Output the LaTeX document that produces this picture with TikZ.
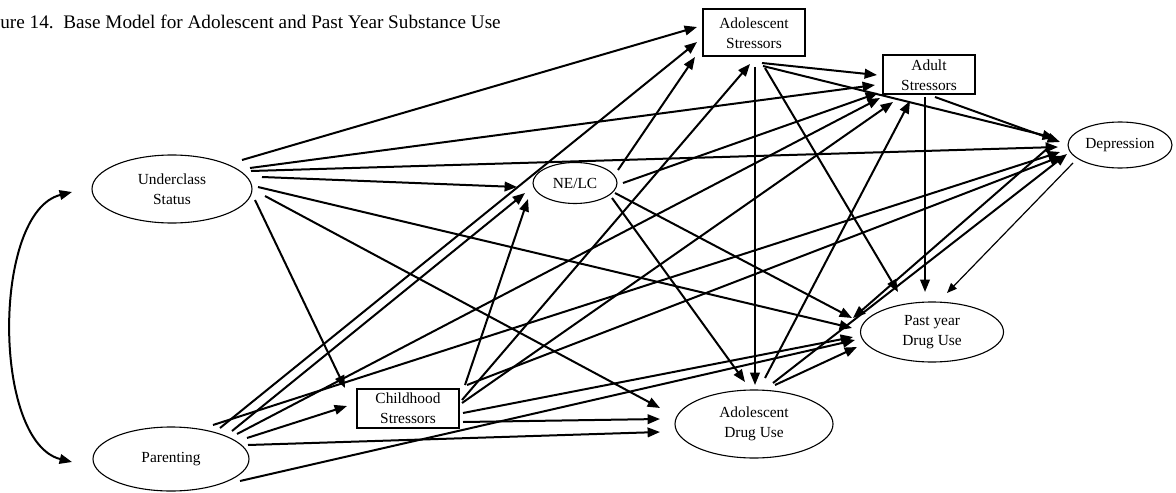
\documentclass[tikz,border=0pt]{standalone}
\usepackage{fontspec}
\setmainfont{Liberation Serif}
\usetikzlibrary{shapes.geometric,arrows.meta}
\begin{document}
\begin{tikzpicture}[x=0.5pt,y=-0.5pt,
  lbl/.style={font=\fontsize{7.7}{10}\selectfont,align=center,inner sep=0pt},
  oval/.style={lbl,draw,ellipse,line width=0.55pt},
  box/.style={lbl,draw,rectangle,line width=1pt},
  tip/.style={-{Triangle[length=6.2pt,width=4.8pt]}},
  link/.style={tip,line width=1pt},
  thinlink/.style={-{Triangle[length=5pt,width=4pt]},line width=0.6pt}]
\useasboundingbox (0,0) rectangle (1176,492);

% title
\node[anchor=base west,inner sep=0pt,font=\fontsize{9.6}{12}\selectfont] (title) at (0,29)
  {ure 14.\ \ Base Model for Adolescent and Past Year Substance Use};

% variables
\node[oval,minimum width=80pt,minimum height=34pt] (u) at (172,189) {Underclass\\Status};
\node[oval,minimum width=78pt,minimum height=32pt] (p) at (171,459) {Parenting};
\node[box,minimum width=51pt,minimum height=23.5pt] (as) at (754,33) {Adolescent\\Stressors};
\node[box,minimum width=46pt,minimum height=19.5pt] (ads) at (929,75) {Adult\\Stressors};
\node[oval,minimum width=52pt,minimum height=23pt] (dep) at (1120,145) {Depression};
\node[oval,minimum width=42pt,minimum height=20.5pt] (ne) at (575,183) {NE/LC};
\node[box,minimum width=51pt,minimum height=19.5pt] (cs) at (408,408) {Childhood\\Stressors};
\node[oval,minimum width=79pt,minimum height=34pt] (ad) at (754,424) {Adolescent\\Drug Use};
\node[oval,minimum width=71.5pt,minimum height=30pt] (py) at (932,332) {Past year\\Drug Use};

% correlation between the exogenous variables
\draw[line width=1pt,{Triangle[length=6.2pt,width=4.8pt]}-{Triangle[length=6.2pt,width=4.8pt]}]
  ([shift={(-100,3)}]u.center) .. controls (-8,212) and (-8,442) .. ([shift={(-99,3)}]p.center);

% paths from Underclass Status
\draw[link] ([shift={(70,-29)}]u.center) -- ([shift={(-57,-6)}]as.center);
\draw[link] ([shift={(78,-21)}]u.center) -- ([shift={(-54,10)}]ads.center);
\draw[link] ([shift={(79,-18)}]u.center) -- ([shift={(-62,2)}]dep.center);
\draw[link] ([shift={(90,-12)}]u.center) -- ([shift={(-58,4)}]ne.center);
\draw[link] ([shift={(86,-2)}]u.center) -- ([shift={(-80,-4)}]py.center);
\draw[link] ([shift={(93,7)}]u.center) -- ([shift={(-94,-16)}]ad.center);
\draw[link] ([shift={(83,11)}]u.center) -- ([shift={(-63,-20)}]cs.center);

% paths from Parenting
\draw[link] ([shift={(42,-34)}]p.center) -- ([shift={(-60,7)}]dep.center);
\draw[link] ([shift={(49,-31)}]p.center) -- ([shift={(-57,9)}]as.center);
\draw[link] ([shift={(61,-28)}]p.center) -- ([shift={(-50,10)}]ne.center);
\draw[link] ([shift={(66,-25)}]p.center) -- ([shift={(-49,23)}]ads.center);
\draw[link] ([shift={(76,-21)}]p.center) -- ([shift={(-61,-2)}]cs.center);
\draw[link] ([shift={(77,-14)}]p.center) -- ([shift={(-94,8)}]ad.center);
\draw[link] ([shift={(69,22)}]p.center) -- ([shift={(-77,8)}]py.center);

% paths from Childhood Stressors
\draw[link] ([shift={(57,-23)}]cs.center) -- ([shift={(-47,16)}]ne.center);
\draw[link] ([shift={(54,-8)}]cs.center) -- ([shift={(-4,31)}]as.center);
\draw[link] ([shift={(54,-5)}]cs.center) -- ([shift={(-36,27)}]ads.center);
\draw[link] ([shift={(59,-23)}]cs.center) -- ([shift={(-58,11)}]dep.center);
\draw[link] ([shift={(55,5)}]cs.center) -- ([shift={(-79,5)}]py.center);
\draw[link] ([shift={(55,14)}]cs.center) -- ([shift={(-94,-5)}]ad.center);

% paths from NE/LC
\draw[link] ([shift={(43,-13)}]ne.center) -- ([shift={(-59,24)}]as.center);
\draw[link] ([shift={(48,0)}]ne.center) -- ([shift={(-51,18)}]ads.center);
\draw[link] ([shift={(40,10)}]ne.center) -- ([shift={(-80,-14)}]py.center);
\draw[link] ([shift={(37,15)}]ne.center) -- ([shift={(-9,-42)}]ad.center);

% paths from Adolescent Stressors
\draw[link] ([shift={(8,30)}]as.center) -- ([shift={(-52,0)}]ads.center);
\draw[link] ([shift={(9,33)}]as.center) -- ([shift={(-65,-7)}]dep.center);
\draw[link] ([shift={(11,35)}]as.center) -- ([shift={(-34,-40)}]py.center);
\draw[link] ([shift={(1,34)}]as.center) -- ([shift={(1,-39)}]ad.center);

% paths from Adult Stressors
\draw[link] ([shift={(6,22)}]ads.center) -- ([shift={(-60,-3)}]dep.center);
\draw[link] ([shift={(-4,22)}]ads.center) -- ([shift={(-7,-40)}]py.center);

% paths from Depression
\draw[thinlink] ([shift={(-47,18)}]dep.center) -- ([shift={(15,-39)}]py.center);
\draw[link] ([shift={(-72,3)}]dep.center) -- ([shift={(-79,-14)}]py.center);

% paths from Adolescent Drug Use
\draw[link] ([shift={(11,-46)}]ad.center) -- ([shift={(-19,26)}]ads.center);
\draw[link] ([shift={(19,-41)}]ad.center) -- ([shift={(-53,9)}]dep.center);
\draw[link] ([shift={(21,-39)}]ad.center) -- ([shift={(-75,15)}]py.center);
\end{tikzpicture}
\end{document}
